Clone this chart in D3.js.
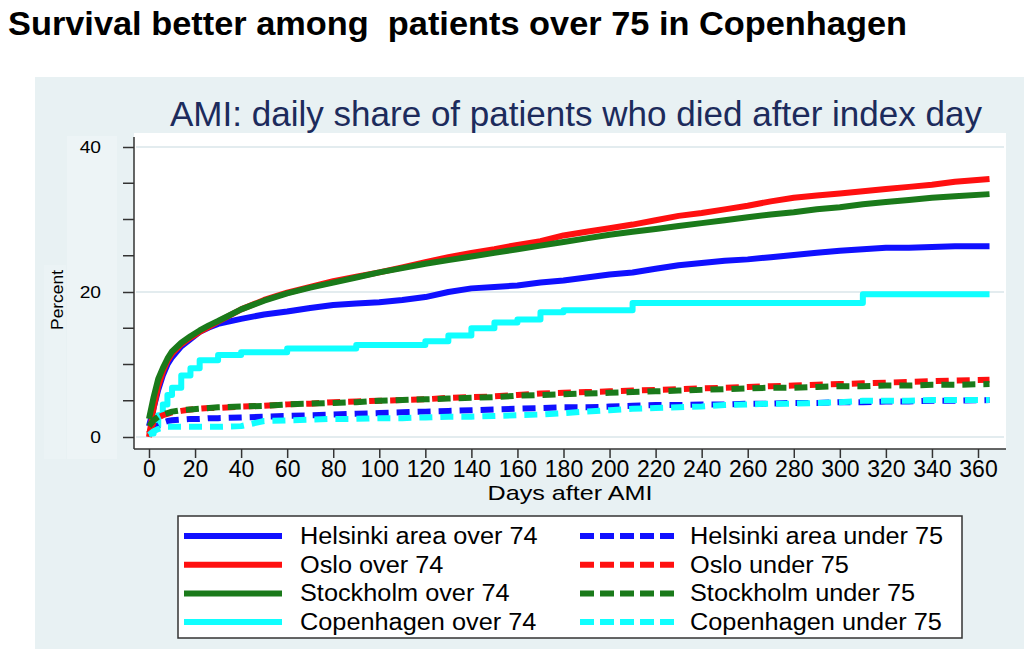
<!DOCTYPE html>
<html><head><meta charset="utf-8">
<script src="https://cdn.jsdelivr.net/npm/d3@7"></script>
<style>body{margin:0;background:#fff;} svg{display:block;font-family:"Liberation Sans",Arial,sans-serif;}</style>
</head><body>
<svg id="c" width="1024" height="649"></svg>
<script>
const pageTitle = "Survival better among  patients over 75 in Copenhagen";
const chartTitle = "AMI: daily share of patients who died after index day";
const yLabel = "Percent";
const xLabel = "Days after AMI";
const yTicks = [0, 20, 40];
const yMinorTicks = [5, 10, 15, 25, 30, 35];
const xTicks = d3.range(0, 361, 20);
const days = [0,2,4,6,8,10,14,18,22,26,30,40,50,60,70,80,90,100,110,120,130,140,150,160,170,180,190,200,210,220,230,240,250,260,270,280,290,300,310,320,330,340,350,365];

const helsinkiOver = [1.5,4,6.5,8.5,10,11,12.5,13.5,14.5,15.1,15.6,16.3,16.9,17.3,17.8,18.2,18.4,18.6,18.9,19.3,20.0,20.5,20.7,20.9,21.3,21.6,22.0,22.4,22.7,23.2,23.7,24.0,24.3,24.5,24.8,25.1,25.4,25.7,25.9,26.1,26.1,26.2,26.3,26.3];
const osloOver = [0,4,7,9,10.5,11.5,12.8,13.7,14.5,15.2,15.9,17.6,18.9,19.9,20.7,21.5,22.1,22.7,23.4,24.1,24.8,25.4,25.9,26.5,27.0,27.8,28.3,28.8,29.3,29.9,30.5,30.9,31.4,31.9,32.5,33.0,33.3,33.6,33.9,34.2,34.5,34.8,35.2,35.6];
const stockholmOver = [2.5,5.5,8,9.5,10.8,11.8,13.0,13.9,14.7,15.4,16.0,17.6,18.8,19.8,20.6,21.3,22.0,22.7,23.3,23.9,24.4,24.9,25.4,25.9,26.4,26.9,27.4,27.9,28.3,28.7,29.1,29.5,29.9,30.3,30.7,31.0,31.4,31.7,32.1,32.4,32.7,33.0,33.2,33.5];
const copenhagenOver = [0.5,1.5,3,4.5,5.8,6.8,8.5,9.5,10.6,10.6,11.3,11.7,11.7,12.2,12.2,12.2,12.7,12.7,12.7,13.2,14.0,15.0,15.8,16.2,17.2,17.5,17.5,17.5,18.5,18.5,18.5,18.5,18.5,18.5,18.5,18.5,18.5,18.5,19.7,19.7,19.7,19.7,19.7,19.7];
const helsinkiUnder = [0.5,1.2,1.6,2.0,2.2,2.3,2.4,2.5,2.5,2.6,2.6,2.7,2.8,2.9,3.0,3.1,3.2,3.3,3.4,3.5,3.6,3.7,3.8,3.9,4.0,4.1,4.1,4.2,4.3,4.4,4.4,4.5,4.5,4.6,4.6,4.7,4.7,4.8,4.8,4.9,4.9,5.0,5.0,5.1];
const osloUnder = [0.5,2,2.7,3.0,3.2,3.4,3.6,3.8,3.9,4.0,4.0,4.2,4.3,4.5,4.6,4.8,4.9,5.0,5.1,5.2,5.4,5.5,5.6,5.8,6.0,6.1,6.2,6.3,6.4,6.5,6.6,6.7,6.8,6.9,7.0,7.1,7.2,7.3,7.4,7.5,7.6,7.7,7.8,7.9];
const stockholmUnder = [1.5,2.3,2.8,3.1,3.3,3.5,3.7,3.8,3.9,4.0,4.1,4.2,4.3,4.5,4.6,4.7,4.8,5.0,5.1,5.2,5.3,5.4,5.5,5.7,5.8,5.9,6.0,6.1,6.2,6.3,6.4,6.5,6.6,6.7,6.8,6.8,6.9,7.0,7.0,7.1,7.1,7.2,7.2,7.3];
const copenhagenUnder = [0.3,0.8,1.1,1.3,1.4,1.4,1.4,1.4,1.4,1.4,1.4,1.5,2.2,2.3,2.4,2.5,2.5,2.6,2.6,2.7,2.8,2.8,2.9,3.0,3.1,3.3,3.5,3.7,3.9,4.0,4.1,4.2,4.4,4.5,4.6,4.6,4.7,4.8,5.0,5.0,5.0,5.1,5.1,5.1];

const seriesNames = ["Helsinki area over 74","Oslo over 74","Stockholm over 74","Copenhagen over 74",
                     "Helsinki area under 75","Oslo under 75","Stockholm under 75","Copenhagen under 75"];
const seriesValues = [helsinkiOver, osloOver, stockholmOver, copenhagenOver, helsinkiUnder, osloUnder, stockholmUnder, copenhagenUnder];
const seriesColors = ["#1010ff","#ff1010","#1a7a1a","#10ffff","#1010ff","#ff1010","#1a7a1a","#10ffff"];
const seriesDashed = [false,false,false,false,true,true,true,true];
const seriesStep = [false,false,false,true,false,false,false,false];

const svg = d3.select("#c");
// stretch text horizontally by a factor (reference text is horizontally widened)
function widen(sel, f) {
  sel.each(function() {
    const w = this.getComputedTextLength();
    d3.select(this).attr("textLength", w * f).attr("lengthAdjust", "spacingAndGlyphs");
  });
}

// page title
svg.append("text").attr("x", 8).attr("y", 35).attr("font-size", 34).attr("font-weight", "bold")
  .attr("fill", "#000").style("white-space","pre").text(pageTitle)
  .call(s => s.attr("textLength", 899).attr("lengthAdjust", "spacingAndGlyphs"));
// panel
svg.append("rect").attr("x", 35).attr("y", 77).attr("width", 989).attr("height", 572).attr("fill", "#e8f1f3");
svg.append("rect").attr("x", 67).attr("y", 136).attr("width", 50).attr("height", 323).attr("fill", "#edf4f6");
svg.append("rect").attr("x", 44).attr("y", 265).attr("width", 22).attr("height", 194).attr("fill", "#ebf3f5");
// plot area
const L = 134, R = 1006, T = 133, B = 449;
svg.append("rect").attr("x", L).attr("y", T).attr("width", R - L).attr("height", B - T).attr("fill", "#fff");

const x = d3.scaleLinear().domain([0, 360]).range([149, 978]);
const y = d3.scaleLinear().domain([0, 40]).range([437, 147]);

// grid
svg.append("g").selectAll("line").data(yTicks).join("line")
  .attr("x1", L + 2).attr("x2", R - 2).attr("y1", d => y(d)).attr("y2", d => y(d))
  .attr("stroke", "#e3ecef").attr("stroke-width", 2);

// chart title
svg.append("text").attr("x", 576).attr("y", 126).attr("text-anchor", "middle").attr("font-size", 35)
  .attr("fill", "#1c2b5c").text(chartTitle)
  .call(s => s.attr("textLength", 812).attr("lengthAdjust", "spacingAndGlyphs"));

// axes
const yAxis = d3.axisLeft(y).tickValues(yTicks).tickSize(11).tickPadding(22);
const gy = svg.append("g").attr("transform", `translate(${L},0)`).call(yAxis);
gy.select(".domain").remove();
gy.selectAll(".tick line").attr("stroke", "#333").attr("stroke-width", 1.5);
gy.selectAll(".tick text").attr("font-size", 16).attr("fill", "#000").attr("font-family", "Liberation Sans, Arial, sans-serif")
  .call(s => widen(s, 1.2));
svg.append("g").selectAll("line").data(yMinorTicks).join("line")
  .attr("x1", L - 11).attr("x2", L).attr("y1", d => y(d)).attr("y2", d => y(d))
  .attr("stroke", "#333").attr("stroke-width", 1.5);
svg.append("line").attr("x1", L).attr("x2", L).attr("y1", T + 4).attr("y2", B).attr("stroke", "#333").attr("stroke-width", 1.5);

const xAxis = d3.axisBottom(x).tickValues(xTicks).tickSize(9).tickPadding(3);
const gx = svg.append("g").attr("transform", `translate(0,${B})`).call(xAxis);
gx.select(".domain").remove();
gx.selectAll(".tick line").attr("stroke", "#333").attr("stroke-width", 1.5);
gx.selectAll(".tick text").attr("font-size", 23).attr("fill", "#000").attr("font-family", "Liberation Sans, Arial, sans-serif");
svg.append("line").attr("x1", L).attr("x2", R).attr("y1", B).attr("y2", B).attr("stroke", "#333").attr("stroke-width", 1.5);

svg.append("text").attr("x", 570).attr("y", 500).attr("text-anchor", "middle").attr("font-size", 21).text(xLabel)
  .call(s => s.attr("textLength", 165).attr("lengthAdjust", "spacingAndGlyphs"));
svg.append("text").attr("transform", "translate(63,300) rotate(-90)").attr("text-anchor", "middle").attr("font-size", 16).text(yLabel)
  .call(s => s.attr("textLength", 60).attr("lengthAdjust", "spacingAndGlyphs"));

// lines
seriesValues.forEach((vals, i) => {
  const line = d3.line().x((d, j) => x(days[j])).y(d => y(d))
    .curve(seriesStep[i] ? d3.curveStepAfter : d3.curveLinear);
  svg.append("path").datum(vals).attr("d", line)
    .attr("fill", "none").attr("stroke", seriesColors[i]).attr("stroke-width", 6)
    .attr("stroke-linejoin", "round")
    .attr("stroke-dasharray", seriesDashed[i] ? "13,8" : null);
});

// legend
svg.append("rect").attr("x", 178).attr("y", 516).attr("width", 784).attr("height", 122)
  .attr("fill", "#fff").attr("stroke", "#333").attr("stroke-width", 1.5);
seriesNames.forEach((name, i) => {
  const col = i < 4 ? 0 : 1, row = i % 4;
  const lx = col === 0 ? 184 : 580, tx = col === 0 ? 300 : 690;
  const ly = 536 + row * 28.7;
  svg.append("line").attr("x1", lx).attr("x2", lx + 98).attr("y1", ly).attr("y2", ly)
    .attr("stroke", seriesColors[i]).attr("stroke-width", 6)
    .attr("stroke-dasharray", seriesDashed[i] ? "14,6" : null);
  svg.append("text").attr("x", tx).attr("y", ly + 8).attr("font-size", 23).text(name)
    .call(s => widen(s, 1.1));
});
</script>
</body></html>
